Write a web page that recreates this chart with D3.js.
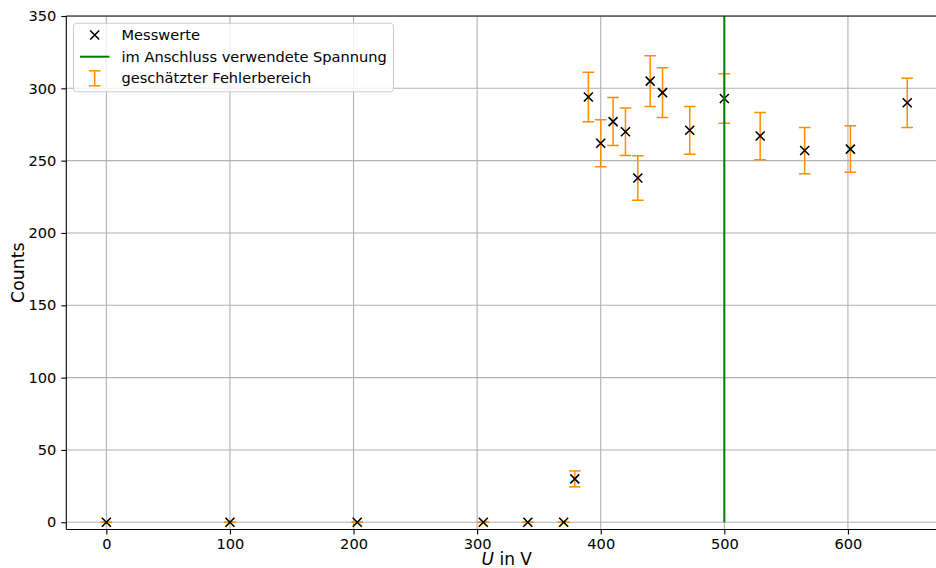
<!DOCTYPE html>
<html>
<head>
<meta charset="utf-8">
<script src="https://cdn.jsdelivr.net/npm/d3@7"></script>
<style>
html,body{margin:0;padding:0;background:#fff;}
svg{display:block;font-family:"DejaVu Sans",sans-serif;}
</style>
</head>
<body>
<svg id="chart" width="936" height="568"></svg>
<script>
// Data
const voltages = [0, 100, 203, 305, 341, 370, 379, 390, 400, 410, 420, 430, 440, 450, 472, 500, 529, 565, 602, 648];
const counts   = [0, 0, 0, 0, 0, 0, 30, 294, 262, 277, 270, 238, 305, 297, 271, 293, 267, 257, 258, 290];
const errors   = [0, 0, 0, 0, 0, 0, 5.5, 17.1, 16.2, 16.6, 16.4, 15.4, 17.5, 17.2, 16.5, 17.1, 16.3, 16.0, 16.1, 17.0];
const usedVoltage = [500];
const xTicks = [0, 100, 200, 300, 400, 500, 600];
const yTicks = [0, 50, 100, 150, 200, 250, 300, 350];
const legendLabels = ["Messwerte", "im Anschluss verwendete Spannung", "geschätzter Fehlerbereich"];

const W = 936, H = 568;
const L = 66.3, R = 947.3, T = 16, B = 529.5;
const svg = d3.select("#chart");

const x = d3.scaleLinear().domain([-32.4, 680.4]).range([L, R]);
const y = d3.scaleLinear().domain([-5, 350]).range([B, T]);

const orange = "#ff8c00", green = "#008000";
const FS = 14.6;

svg.append("defs").append("clipPath").attr("id","clip")
  .append("rect").attr("x", L).attr("y", T).attr("width", R - L).attr("height", B - T);

const plot = svg.append("g").attr("clip-path","url(#clip)");

// grid
plot.append("g").selectAll("line").data(xTicks).join("line")
  .attr("x1", d => x(d)).attr("x2", d => x(d)).attr("y1", T).attr("y2", B)
  .attr("stroke", "#b0b0b0").attr("stroke-width", 1.1);
plot.append("g").selectAll("line").data(yTicks).join("line")
  .attr("x1", L).attr("x2", R).attr("y1", d => y(d)).attr("y2", d => y(d))
  .attr("stroke", "#b0b0b0").attr("stroke-width", 1.1);

const pts = voltages.map((v, i) => ({v, c: counts[i], e: errors[i]}));

// error bars
const eb = plot.append("g").attr("stroke", orange).attr("stroke-width", 1.5);
pts.forEach(p => {
  const cx = x(p.v), y1 = y(p.c + p.e), y2 = y(p.c - p.e);
  eb.append("line").attr("x1", cx).attr("x2", cx).attr("y1", y1).attr("y2", y2);
  eb.append("line").attr("x1", cx - 5.8).attr("x2", cx + 5.8).attr("y1", y1).attr("y2", y1);
  eb.append("line").attr("x1", cx - 5.8).attr("x2", cx + 5.8).attr("y1", y2).attr("y2", y2);
});

// crosses
const s = 4.5;
const cr = plot.append("g").attr("stroke", "#000").attr("stroke-width", 1.6);
pts.forEach(p => {
  const cx = x(p.v), cy = y(p.c);
  cr.append("path").attr("d", `M${cx-s},${cy-s}L${cx+s},${cy+s}M${cx-s},${cy+s}L${cx+s},${cy-s}`);
});

// vertical line
plot.selectAll(".vl").data(usedVoltage).join("line").attr("class","vl")
  .attr("x1", d => x(d)).attr("x2", d => x(d)).attr("y1", y(0)).attr("y2", y(350))
  .attr("stroke", green).attr("stroke-width", 2);

// axes
const xAxis = d3.axisBottom(x).tickValues(xTicks).tickSize(5).tickPadding(4).tickFormat(d3.format("d"));
const gx = svg.append("g").attr("transform", `translate(0,${B})`).call(xAxis);
gx.select(".domain").remove();
const yAxis = d3.axisLeft(y).tickValues(yTicks).tickSize(5).tickPadding(5).tickFormat(d3.format("d"));
const gy = svg.append("g").attr("transform", `translate(${L},0)`).call(yAxis);
gy.select(".domain").remove();
[gx, gy].forEach(g => {
  g.selectAll("text").attr("font-size", FS).attr("font-family", "DejaVu Sans").attr("fill", "#000");
  g.selectAll("line").attr("stroke", "#000").attr("stroke-width", 1.1);
});

// spines
svg.append("line").attr("x1", L).attr("x2", L).attr("y1", T).attr("y2", B).attr("stroke","#000").attr("stroke-width",1.1);
svg.append("line").attr("x1", L).attr("x2", W).attr("y1", B).attr("y2", B).attr("stroke","#000").attr("stroke-width",1.1);
svg.append("line").attr("x1", L).attr("x2", W).attr("y1", T).attr("y2", T).attr("stroke","#000").attr("stroke-width",1.1);

// axis labels
const xl = svg.append("text").attr("x", (L + R) / 2).attr("y", 565).attr("text-anchor", "middle")
  .attr("font-size", 17);
xl.append("tspan").attr("font-style", "italic").text("U");
xl.append("tspan").text(" in V");
svg.append("text").attr("transform", `translate(23.5,${(T + B) / 2}) rotate(-90)`)
  .attr("text-anchor", "middle").attr("font-size", 17.3).text("Counts");

// legend
const lg = svg.append("g");
lg.append("rect").attr("x", 73.5).attr("y", 23.3).attr("width", 320).attr("height", 68.5)
  .attr("rx", 3).attr("fill", "#fff").attr("fill-opacity", 0.8).attr("stroke", "#cccccc").attr("stroke-width", 1);
const rows = [35, 56.7, 78.3];
const hx = 94.7;
lg.append("path").attr("d", `M${hx-s},${rows[0]-s}L${hx+s},${rows[0]+s}M${hx-s},${rows[0]+s}L${hx+s},${rows[0]-s}`)
  .attr("stroke", "#000").attr("stroke-width", 1.6);
lg.append("line").attr("x1", 80).attr("x2", 109.5).attr("y1", rows[1]).attr("y2", rows[1])
  .attr("stroke", green).attr("stroke-width", 2);
const eg = lg.append("g").attr("stroke", orange).attr("stroke-width", 1.5);
eg.append("line").attr("x1", hx).attr("x2", hx).attr("y1", rows[2]-7.5).attr("y2", rows[2]+7.5);
eg.append("line").attr("x1", hx-5.8).attr("x2", hx+5.8).attr("y1", rows[2]-7.5).attr("y2", rows[2]-7.5);
eg.append("line").attr("x1", hx-5.8).attr("x2", hx+5.8).attr("y1", rows[2]+7.5).attr("y2", rows[2]+7.5);
lg.selectAll("text.lab").data(legendLabels).join("text").attr("class","lab")
  .attr("x", 121.5).attr("y", (d, i) => rows[i]).attr("dy", "0.35em")
  .attr("font-size", FS).text(d => d);
</script>
</body>
</html>
